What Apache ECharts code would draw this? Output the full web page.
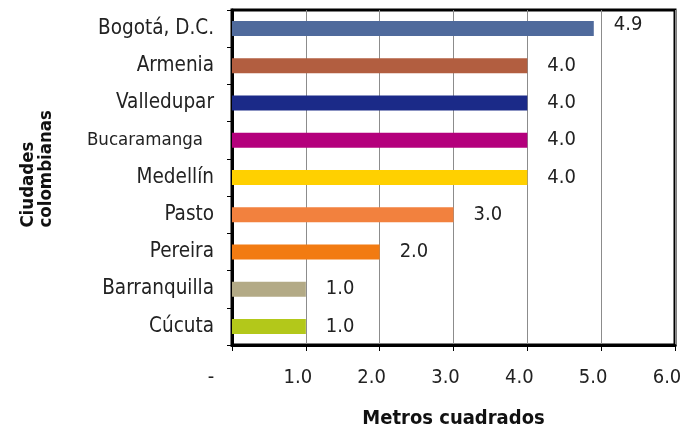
<!DOCTYPE html>
<html><head><meta charset="utf-8">
<script src="https://cdn.jsdelivr.net/npm/echarts@6/dist/echarts.min.js"></script>
<style>html,body{margin:0;padding:0;background:#fff}#c{width:686px;height:431px}</style>
</head><body><div id="c"></div>
<script>
const cities = ['Bogotá, D.C.', 'Armenia', 'Valledupar', 'Bucaramanga', 'Medellín', 'Pasto', 'Pereira', 'Barranquilla', 'Cúcuta'];
const values = [4.9, 4.0, 4.0, 4.0, 4.0, 3.0, 2.0, 1.0, 1.0];
const barColors = ['#4f6a9c', '#b25e40', '#1b2a88', '#b4007c', '#ffd000', '#f2813e', '#f27b12', '#b3aa86', '#b3c81a'];
const xTickLabels = ['-', '1.0', '2.0', '3.0', '4.0', '5.0', '6.0'];
const font = "'Liberation Sans Narrow', 'DejaVu Sans Condensed', 'Arial Narrow', sans-serif";

const chart = echarts.init(document.getElementById('c'));
chart.setOption({
  animation: false,
  grid: {left: 232, right: 11, top: 10, bottom: 86, show: true, borderColor: '#000', borderWidth: 3,
    backgroundColor: 'transparent', containLabel: false, outerBoundsMode: 'none'},
  xAxis: {
    type: 'value', min: 0, max: 6, interval: 1,
    axisLine: {show: true, lineStyle: {color: '#000', width: 3}},
    axisTick: {show: true, length: 6, lineStyle: {color: '#000', width: 1}},
    splitLine: {show: true, lineStyle: {color: '#8c8c8c', width: 1}},
    axisLabel: {margin: 23, fontSize: 20, color: '#222', fontFamily: font,
      formatter: v => {const t = xTickLabels[Math.round(v)]; return t === '-' ? '{d|-}' : '{n|' + t + '}';},
      rich: {
        n: {fontSize: 20, color: '#222', fontFamily: font, padding: [0, 16, 0, 0]},
        d: {fontSize: 20, color: '#222', fontFamily: font, padding: [0, 42, 0, 0]}
      }},
    name: 'Metros cuadrados', nameLocation: 'middle', nameGap: 64,
    nameTextStyle: {fontSize: 20, fontWeight: 'bold', color: '#111', fontFamily: font}
  },
  yAxis: {
    type: 'category', inverse: true, data: cities,
    axisLine: {show: true, lineStyle: {color: '#000', width: 3}},
    axisTick: {show: true, length: 5, lineStyle: {color: '#000', width: 1}},
    axisLabel: {margin: 18, fontSize: 20.5, color: '#222', fontFamily: font,
      formatter: v => v === 'Bucaramanga' ? '{s|' + v + '}' : v,
      rich: {s: {fontSize: 18.5, color: '#222', fontFamily: font, padding: [0, 11, 0, 0]}}}
  },
  graphic: [{
    type: 'text', left: 19, top: 110, rotation: Math.PI / 2,
    style: {text: 'Ciudades\ncolombianas', font: 'bold 18.5px ' + font, fill: '#111', align: 'left', lineHeight: 18}
  }],
  series: [{
    type: 'bar', barWidth: 15,
    data: values.map((v, i) => ({value: v, itemStyle: {color: barColors[i]},
      label: i === 0 ? {offset: [0, -4]} : undefined})),
    label: {show: true, position: 'right', distance: 20, fontSize: 20, color: '#222', fontFamily: font,
      formatter: p => p.value.toFixed(1)}
  }]
});
</script></body></html>
